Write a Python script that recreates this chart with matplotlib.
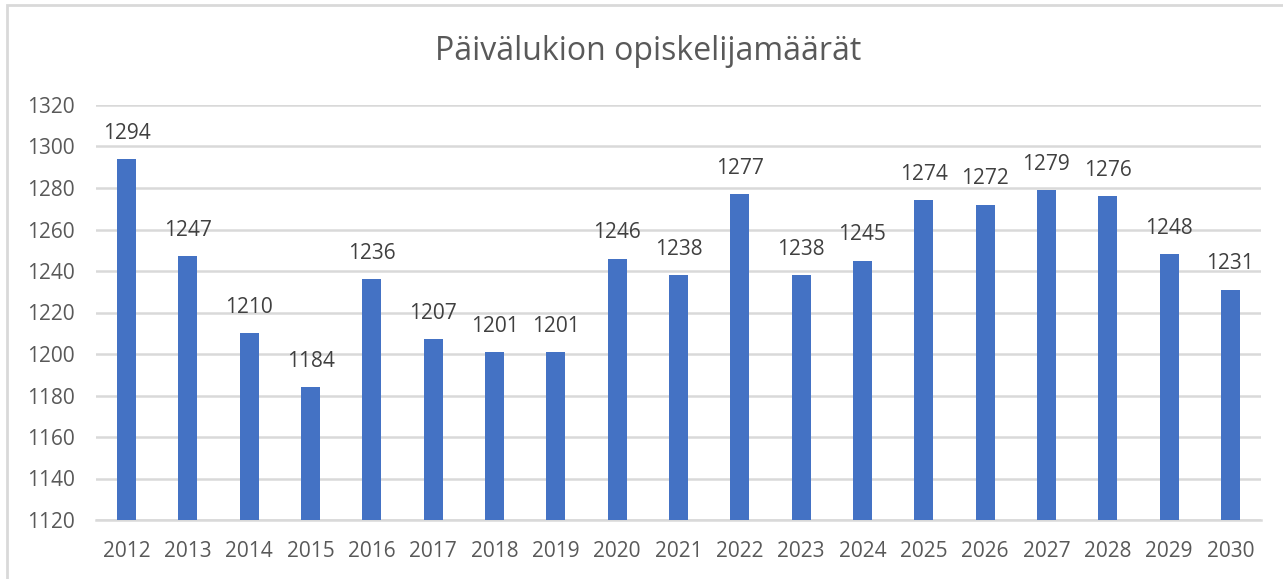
import matplotlib
matplotlib.use("Agg")
import matplotlib.pyplot as plt
from matplotlib.patches import Rectangle

years = [str(y) for y in range(2012, 2031)]
students = [1294, 1247, 1210, 1184, 1236, 1207, 1201, 1201, 1246, 1238,
            1277, 1238, 1245, 1274, 1272, 1279, 1276, 1248, 1231]
y_ticks = list(range(1120, 1321, 20))

plt.rcParams['font.family'] = ['Open Sans', 'DejaVu Sans']

W, H = 1283, 579
fig = plt.figure(figsize=(W / 100, H / 100), dpi=100)
ax = fig.add_axes([96 / W, 1 - 520 / H, (1261 - 96) / W, (520 - 105) / H])

bar_color = '#4472C4'
grid_color = '#D9D9D9'
text_color = '#595959'

x = list(range(len(years)))
ax.bar(x, [v - y_ticks[0] for v in students], bottom=y_ticks[0],
       width=0.31, color=bar_color, zorder=3)

for xi, v in zip(x, students):
    ax.annotate(str(v), (xi, v), xytext=(0, 11), textcoords='offset points',
                ha='center', va='bottom', fontsize=15, color='#404040')

ax.set_xlim(-0.5, len(years) - 0.5)
ax.set_ylim(y_ticks[0], y_ticks[-1])
ax.set_yticks(y_ticks)
ax.set_xticks(x)
ax.set_xticklabels(years)
ax.yaxis.grid(True, color=grid_color, linewidth=1.8, zorder=0)
for s in ['top', 'right', 'left']:
    ax.spines[s].set_visible(False)
ax.spines['bottom'].set_color(grid_color)
ax.spines['bottom'].set_linewidth(1.8)
ax.tick_params(axis='both', length=0, labelsize=15, labelcolor=text_color)
ax.tick_params(axis='y', pad=15)
ax.tick_params(axis='x', pad=15)

fig.text(648 / W, 1 - 51 / H, 'Päivälukion opiskelijamäärät', ha='center',
         va='center', fontsize=23, color=text_color)

# outer chart border
fig.patches.append(Rectangle((7 / W, -0.2), 1.2, 1.2 - 5 / H,
                             transform=fig.transFigure, fill=False,
                             edgecolor=grid_color, linewidth=2))

fig.savefig('out.png', dpi=100)
